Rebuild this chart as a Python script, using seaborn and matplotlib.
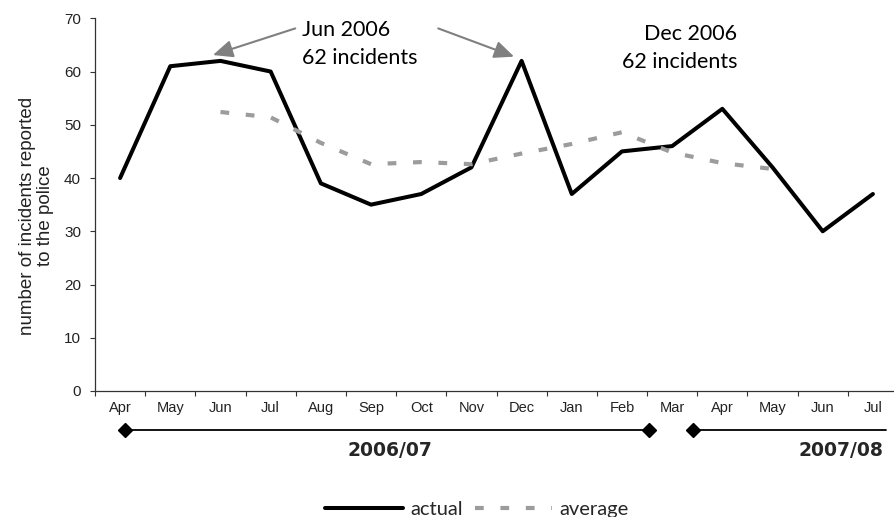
import numpy as np
import pandas as pd
import seaborn as sns
import matplotlib.pyplot as plt
from matplotlib.lines import Line2D

# values
months = ["Apr", "May", "Jun", "Jul", "Aug", "Sep", "Oct", "Nov",
          "Dec", "Jan", "Feb", "Mar", "Apr", "May", "Jun", "Jul"]
actual = [40, 61, 62, 60, 39, 35, 37, 42, 62, 37, 45, 46, 53, 42, 30, 37]
average = [np.nan, np.nan, 52.4, 51.4, 46.6, 42.6, 43.0, 42.6,
           44.6, 46.4, 48.6, 44.8, 42.8, 41.7, np.nan, np.nan]
years = ["2006/07", "2007/08"]
callouts = [("Jun 2006", "62 incidents"), ("Dec 2006", "62 incidents")]

sns.set_style("white")
plt.rcParams['font.family'] = ['Liberation Sans', 'DejaVu Sans']

W, H = 894, 517
def fx(px):
    return px / W
def fy(py):
    return 1 - py / H

df = pd.DataFrame({"idx": np.arange(len(months)), "actual": actual, "average": average})

fig = plt.figure(figsize=(W / 100, H / 100), dpi=100)
ax = fig.add_axes([fx(95), fy(391), 803 / W, 372.7 / H])

GREY = "#9c9c9c"
sns.lineplot(data=df, x="idx", y="actual", ax=ax, color="black", lw=2.9)
sns.lineplot(data=df, x="idx", y="average", ax=ax, color=GREY, lw=3.0)
ax.lines[-1].set_dashes((2.1, 4.0))

ax.set_xlim(-0.5, len(months) - 0.5)
ax.set_ylim(0, 70)
ax.set_yticks(range(0, 71, 10))
ax.set_xticks(np.arange(-0.5, len(months), 1.0))
ax.set_xticklabels([])
ax.set_xticks(df["idx"], minor=True)
ax.set_xticklabels(months, minor=True)
ax.tick_params(axis="x", which="major", direction="out", length=3.6, width=0.8,
               color="#333333", bottom=True)
ax.tick_params(axis="x", which="minor", length=0, pad=7.5, labelsize=10.5,
               labelcolor="#222222")
ax.tick_params(axis="y", direction="out", length=3.6, width=0.8, color="#333333",
               left=True, pad=6.5, labelsize=11, labelcolor="#222222")
ax.set_xlabel("")
ax.set_ylabel("number of incidents reported\nto the police", fontsize=13.5,
              color="#222222", linespacing=1.05)
ax.yaxis.set_label_coords(-41 / 803, 0.47)
sns.despine(ax=ax)
for s in ["left", "bottom"]:
    ax.spines[s].set_color("#333333")
    ax.spines[s].set_linewidth(0.9)

# callout arrows
arrow = dict(arrowstyle="-|>,head_length=0.5,head_width=0.22", color="#808080",
             lw=1.5, mutation_scale=24, shrinkA=0, shrinkB=0)
ax.annotate("", xy=(1.85, 63.1), xytext=(3.49, 68.1), arrowprops=arrow,
            annotation_clip=False)
ax.annotate("", xy=(7.85, 62.8), xytext=(6.34, 68.1), arrowprops=arrow,
            annotation_clip=False)

txt = dict(family="Lato", fontsize=15.5, color="black", va="baseline")
fig.text(fx(302), fy(36), callouts[0][0], ha="left", **txt)
fig.text(fx(302), fy(64), callouts[0][1], ha="left", **txt)
fig.text(fx(737), fy(40), callouts[1][0], ha="right", **txt)
fig.text(fx(737), fy(68), callouts[1][1], ha="right", **txt)

# financial year brackets below the axis
tr = ax.get_xaxis_transform()
yb = (391 - 430) / 372.7
ax.plot([0.1, 10.54], [yb, yb], color="black", lw=1.3, marker="D", ms=7.5,
        transform=tr, clip_on=False)
ax.plot([11.42, 15.27], [yb, yb], color="black", lw=1.3, marker="D", ms=7.5,
        markevery=[0], transform=tr, clip_on=False)
yr = dict(family="DejaVu Sans", fontsize=13.5, fontweight="bold", va="baseline")
fig.text(fx(390), fy(456), years[0], ha="center", **yr)
fig.text(fx(883), fy(456), years[1], ha="right", **yr)

handles = [Line2D([], [], color="black", lw=2.9),
           Line2D([], [], color=GREY, lw=3.0, dashes=(2.1, 4.0))]
fig.legend(handles=handles, labels=["actual", "average"], loc="center",
           bbox_to_anchor=(fx(477), fy(509)), ncol=2, frameon=False,
           handlelength=3.85, handletextpad=0.35, columnspacing=0.6,
           borderpad=0, borderaxespad=0,
           prop=dict(family="Lato", size=14.5))

fig.savefig("out.png", dpi=100)
